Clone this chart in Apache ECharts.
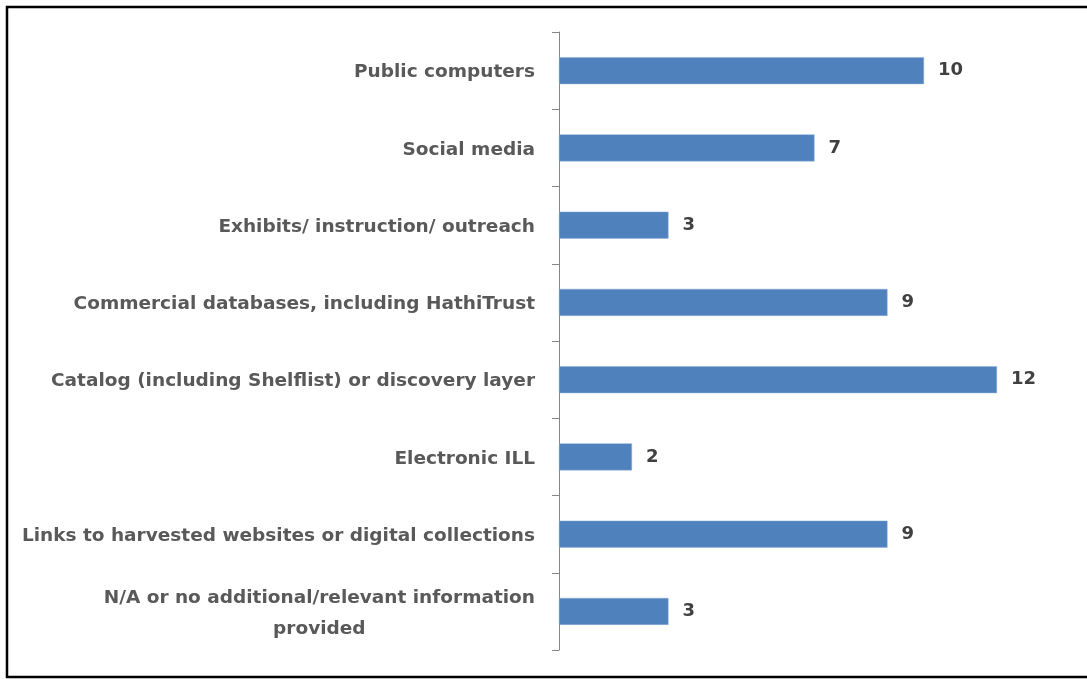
<!DOCTYPE html>
<html>
<head>
<meta charset="utf-8">
<script src="https://cdn.jsdelivr.net/npm/echarts@6/dist/echarts.min.js"></script>
<style>
html,body{margin:0;padding:0;background:#fff;}
#chart{width:1087px;height:679px;}
</style>
</head>
<body>
<div id="chart"></div>
<script>
var categories = [
  'Public computers',
  'Social media',
  'Exhibits/ instruction/ outreach',
  'Commercial databases, including HathiTrust',
  'Catalog (including Shelflist) or discovery layer',
  'Electronic ILL',
  'Links to harvested websites or digital collections',
  'N/A or no additional/relevant information\nprovided'
];
var values = [10, 7, 3, 9, 12, 2, 9, 3];

var FONT = 'DejaVu Sans';
var chart = echarts.init(document.getElementById('chart'));
chart.setOption({
  animation: false,
  backgroundColor: '#ffffff',
  graphic: [{
    type: 'rect',
    shape: { x: 7, y: 7, width: 1100, height: 670 },
    style: { fill: 'none', stroke: '#000000', lineWidth: 2.5 },
    silent: true
  }],
  grid: { left: 559, right: 17, top: 32, bottom: 29 },
  xAxis: {
    type: 'value',
    min: 0,
    max: 14,
    show: false
  },
  yAxis: {
    type: 'category',
    data: categories,
    inverse: true,
    axisLine: { show: true, lineStyle: { color: '#868686', width: 1 } },
    axisTick: { show: true, length: 7, lineStyle: { color: '#868686' } },
    axisLabel: {
      margin: 24,
      color: '#595959',
      fontFamily: FONT,
      fontWeight: 'bold',
      fontSize: 18.5,
      lineHeight: 31,
      padding: [4, 0, 0, 0],
      formatter: function (v) {
        return v.split('\n').map(function (s) { return '{c|' + s + '}'; }).join('\n');
      },
      rich: {
        c: { align: 'center', color: '#595959', fontFamily: FONT, fontWeight: 'bold', fontSize: 18.5, lineHeight: 31 }
      }
    }
  },
  series: [{
    type: 'bar',
    data: values,
    barWidth: 27,
    itemStyle: { color: '#4F81BD', borderColor: '#8fb0d8', borderWidth: 0.5 },
    label: {
      show: true,
      position: 'right',
      distance: 14,
      color: '#404040',
      fontFamily: FONT,
      fontWeight: 'bold',
      fontSize: 18
    }
  }]
});
</script>
</body>
</html>
